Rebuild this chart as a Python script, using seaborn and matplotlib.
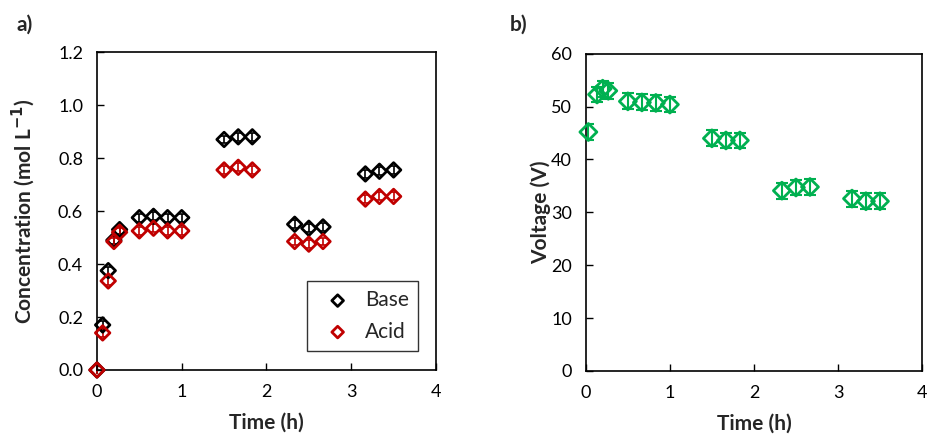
import matplotlib
matplotlib.use('Agg')
import matplotlib.pyplot as plt
import seaborn as sns
import pandas as pd

# ===== Data =====
time_a = [0.0, 0.067, 0.133, 0.2, 0.267, 0.5, 0.667, 0.833, 1.0,
          1.5, 1.667, 1.833, 2.333, 2.5, 2.667, 3.167, 3.333, 3.5]
base_conc = [0.0, 0.17, 0.375, 0.49, 0.53, 0.575, 0.58, 0.575, 0.575,
             0.87, 0.88, 0.88, 0.55, 0.535, 0.54, 0.74, 0.75, 0.755]
acid_conc = [0.0, 0.14, 0.336, 0.485, 0.52, 0.525, 0.535, 0.525, 0.525,
             0.755, 0.765, 0.755, 0.485, 0.475, 0.485, 0.645, 0.655, 0.655]
conc_err = 0.015

time_b = [0.03, 0.133, 0.2, 0.267, 0.5, 0.667, 0.833, 1.0,
          1.5, 1.667, 1.833, 2.333, 2.5, 2.667, 3.167, 3.333, 3.5]
voltage = [45.2, 52.3, 53.4, 53.0, 51.0, 50.8, 50.7, 50.4,
           44.0, 43.6, 43.6, 34.1, 34.7, 34.8, 32.6, 32.1, 32.1]
volt_err = 1.5

BLACK = '#000000'
RED = '#C00000'
GREEN = '#00B050'

sns.set_style('ticks')
plt.rcParams['font.family'] = ['Lato', 'DejaVu Sans']

df_a = pd.DataFrame({'t': time_a, 'Base': base_conc, 'Acid': acid_conc})
df_b = pd.DataFrame({'t': time_b, 'V': voltage})

fig = plt.figure(figsize=(9.27, 4.41), dpi=100)
ax1 = fig.add_axes([0.1046, 0.161, 0.3657, 0.721])
ax2 = fig.add_axes([0.632, 0.159, 0.3626, 0.719])

# ----- Panel a -----
for col, c in [('Base', BLACK), ('Acid', RED)]:
    ax1.errorbar(df_a['t'], df_a[col], yerr=conc_err, fmt='none',
                 ecolor=c, elinewidth=1.2, capsize=2.5, capthick=1.2, zorder=2)
    sns.scatterplot(data=df_a, x='t', y=col, ax=ax1, marker='D', s=55,
                    color=c, facecolor='none', edgecolor=c, linewidth=2,
                    label=col, zorder=3)

ax1.set_xlim(0, 4)
ax1.set_ylim(0, 1.2)
ax1.set_xticks([0, 1, 2, 3, 4])
ax1.set_yticks([0.0, 0.2, 0.4, 0.6, 0.8, 1.0, 1.2])
ax1.set_yticklabels([f'{v:.1f}' for v in [0.0, 0.2, 0.4, 0.6, 0.8, 1.0, 1.2]])
ax1.set_xlabel('Time (h)', fontsize=15, fontweight='bold', labelpad=9)
ax1.set_ylabel('Concentration (mol L$^{\\mathbf{-1}}$)', fontsize=15,
               fontweight='bold', labelpad=15)
leg = ax1.legend(loc='lower right', bbox_to_anchor=(0.947, 0.06),
                 borderaxespad=0, fontsize=15, frameon=True, fancybox=False,
                 edgecolor='black', handletextpad=0.3, borderpad=0.45,
                 labelspacing=0.55, handlelength=2.0, markerscale=0.8)
leg.get_frame().set_linewidth(1.0)

# ----- Panel b -----
ax2.errorbar(df_b['t'], df_b['V'], yerr=volt_err, fmt='none',
             ecolor=GREEN, elinewidth=1.5, capsize=4.5, capthick=1.5, zorder=2)
sns.scatterplot(data=df_b, x='t', y='V', ax=ax2, marker='D', s=75,
                color=GREEN, facecolor='none', edgecolor=GREEN, linewidth=2,
                zorder=3, legend=False)

ax2.set_xlim(0, 4)
ax2.set_ylim(0, 60)
ax2.set_xticks([0, 1, 2, 3, 4])
ax2.set_yticks([0, 10, 20, 30, 40, 50, 60])
ax2.set_xlabel('Time (h)', fontsize=15, fontweight='bold', labelpad=9)
ax2.set_ylabel('Voltage (V)', fontsize=15, fontweight='bold', labelpad=0)

for ax in (ax1, ax2):
    for s in ax.spines.values():
        s.set_visible(True)
        s.set_linewidth(1.2)
        s.set_color('black')
    ax.tick_params(direction='in', length=5, width=1, labelsize=13,
                   colors='black', pad=10)
    for coll in ax.collections:
        coll.set_clip_on(False)

fig.text(0.018, 0.93, 'a)', fontsize=15, fontweight='bold')
fig.text(0.55, 0.93, 'b)', fontsize=15, fontweight='bold')

fig.savefig('out.png', dpi=100)
